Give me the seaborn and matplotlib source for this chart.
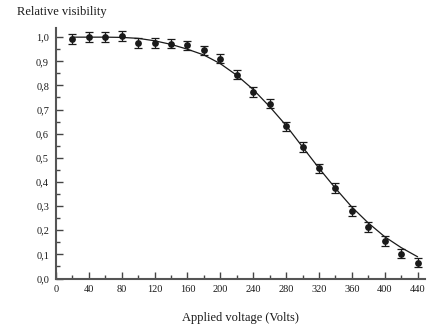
import matplotlib
matplotlib.use("Agg")
import matplotlib.pyplot as plt
import seaborn as sns
import pandas as pd
from matplotlib.ticker import MultipleLocator, FixedLocator, FixedFormatter

# measured points
voltage = [20, 40, 60, 80, 100, 120, 140, 160, 180, 200, 220,
           240, 260, 280, 300, 320, 340, 360, 380, 400, 420, 440]
visibility = [0.993, 1.0, 1.0, 1.004, 0.976, 0.977, 0.973, 0.966, 0.945,
              0.911, 0.845, 0.773, 0.725, 0.630, 0.545, 0.456, 0.375,
              0.279, 0.213, 0.156, 0.103, 0.066]
error = [0.02] * len(voltage)

# fitted curve, read at the same voltages
fit_visibility = [1.0, 1.0, 1.0, 0.999, 0.995, 0.985, 0.970, 0.950, 0.926,
                  0.890, 0.842, 0.783, 0.712, 0.634, 0.545, 0.457, 0.374,
                  0.296, 0.230, 0.173, 0.128, 0.090]

x_ticks = [0, 40, 80, 120, 160, 200, 240, 280, 320, 360, 400, 440]
y_ticks = [0.0, 0.1, 0.2, 0.3, 0.4, 0.5, 0.6, 0.7, 0.8, 0.9, 1.0]
y_tick_labels = ["0,0", "0,1", "0,2", "0,3", "0,4", "0,5",
                 "0,6", "0,7", "0,8", "0,9", "1,0"]

df = pd.DataFrame({"voltage": voltage, "visibility": visibility,
                   "error": error})
fit = pd.DataFrame({"voltage": voltage, "visibility": fit_visibility})

sns.set_theme(style="ticks")
plt.rcParams["font.family"] = ["Liberation Serif", "DejaVu Serif"]

fig = plt.figure(figsize=(4.36, 3.27), dpi=100)
ax = fig.add_axes([56 / 436, 1 - 278.5 / 327, 369 / 436, 251 / 327])

ink = "#1a1a1a"
sns.lineplot(data=fit, x="voltage", y="visibility", ax=ax,
             color=ink, linewidth=0.9)
ax.errorbar(df["voltage"], df["visibility"], yerr=df["error"], fmt="none",
            ecolor=ink, elinewidth=0.9, capsize=2.6, capthick=0.9)
sns.scatterplot(data=df, x="voltage", y="visibility", ax=ax,
                color=ink, s=24, edgecolor=ink, linewidth=0, zorder=3)

ax.set_xlim(0, 449)
ax.set_ylim(0, 1.04)

ax.xaxis.set_major_locator(FixedLocator(x_ticks))
ax.xaxis.set_minor_locator(MultipleLocator(20))
ax.yaxis.set_major_locator(FixedLocator(y_ticks))
ax.yaxis.set_major_formatter(FixedFormatter(y_tick_labels))
ax.yaxis.set_minor_locator(MultipleLocator(0.05))

ax.tick_params(which="both", direction="in", color="#444444",
               labelsize=7.5, labelcolor=ink)
ax.tick_params(which="major", length=5, width=1.0, pad=5)
ax.tick_params(which="minor", length=3, width=1.0)
for side in ("top", "right"):
    ax.spines[side].set_visible(False)
for side in ("left", "bottom"):
    ax.spines[side].set_color("#555555")
    ax.spines[side].set_linewidth(1.5)

ax.set_xlabel("Applied voltage (Volts)", fontsize=9, color=ink,
              labelpad=13)
ax.set_ylabel("")
fig.text(0.039, 0.963, "Relative visibility", fontsize=9, color=ink,
         ha="left", va="center")

fig.savefig("out.png", dpi=100)
